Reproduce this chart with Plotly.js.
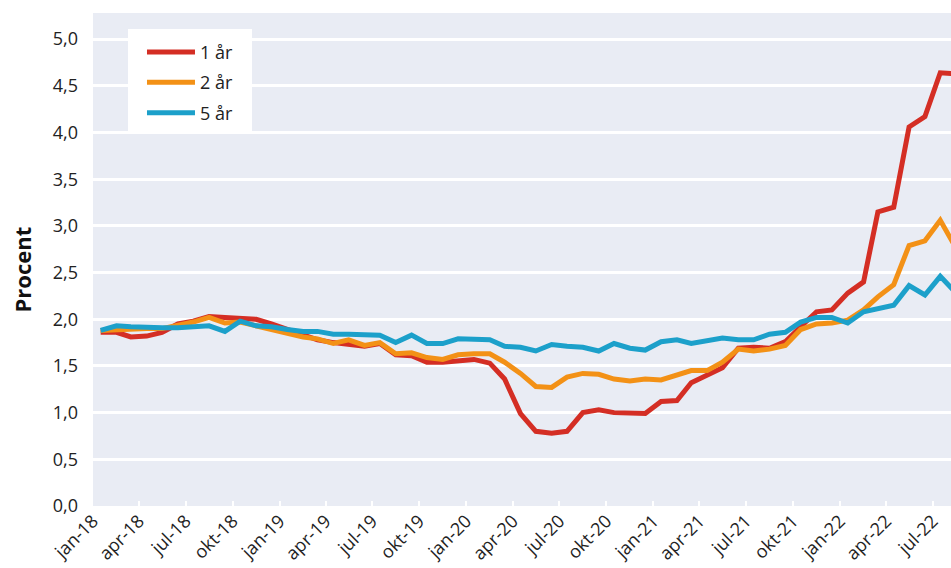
<!DOCTYPE html>
<html>
<head>
<meta charset="utf-8">
<script src="https://cdn.plot.ly/plotly-3.0.1.min.js"></script>
<style>
html,body{margin:0;padding:0;background:#fff;}
#chart{width:951px;height:568px;}
</style>
</head>
<body>
<div id="chart"></div>
<script>
// Monthly observations (plotted mid-month)
const months = [
 "2018-01-16","2018-02-16","2018-03-16","2018-04-16","2018-05-16","2018-06-16","2018-07-16","2018-08-16","2018-09-16","2018-10-16","2018-11-16","2018-12-16",
 "2019-01-16","2019-02-16","2019-03-16","2019-04-16","2019-05-16","2019-06-16","2019-07-16","2019-08-16","2019-09-16","2019-10-16","2019-11-16","2019-12-16",
 "2020-01-16","2020-02-16","2020-03-16","2020-04-16","2020-05-16","2020-06-16","2020-07-16","2020-08-16","2020-09-16","2020-10-16","2020-11-16","2020-12-16",
 "2021-01-16","2021-02-16","2021-03-16","2021-04-16","2021-05-16","2021-06-16","2021-07-16","2021-08-16","2021-09-16","2021-10-16","2021-11-16","2021-12-16",
 "2022-01-16","2022-02-16","2022-03-16","2022-04-16","2022-05-16","2022-06-16","2022-07-16","2022-08-16"
];

const rate1 = [
 1.86,1.86,1.81,1.82,1.86,1.95,1.98,2.03,2.02,2.01,2.00,1.95,
 1.89,1.83,1.78,1.75,1.73,1.71,1.74,1.62,1.61,1.54,1.54,1.55,
 1.57,1.53,1.36,0.99,0.80,0.78,0.80,1.00,1.03,1.00,0.99,0.99,
 1.12,1.13,1.32,1.40,1.48,1.69,1.70,1.69,1.76,1.92,2.08,2.10,
 2.28,2.40,3.15,3.20,4.06,4.17,4.64,4.63
];
const rate2 = [
 1.88,1.89,1.90,1.90,1.90,1.93,1.97,2.02,1.96,1.97,1.93,1.90,
 1.86,1.81,1.79,1.74,1.78,1.72,1.75,1.63,1.64,1.59,1.57,1.62,
 1.63,1.63,1.54,1.42,1.28,1.27,1.38,1.42,1.41,1.36,1.34,1.36,
 1.35,1.40,1.45,1.45,1.54,1.68,1.66,1.68,1.72,1.89,1.95,1.96,
 1.99,2.10,2.24,2.37,2.79,2.84,3.06,2.76
];
const rate5 = [
 1.88,1.93,1.92,1.91,1.91,1.91,1.92,1.93,1.87,1.98,1.93,1.92,
 1.89,1.87,1.87,1.84,1.84,1.84,1.83,1.75,1.83,1.74,1.74,1.79,
 1.78,1.78,1.71,1.70,1.66,1.73,1.71,1.70,1.66,1.74,1.69,1.67,
 1.76,1.78,1.74,1.77,1.80,1.78,1.78,1.84,1.86,1.97,2.02,2.02,
 1.96,2.08,2.11,2.15,2.36,2.26,2.46,2.28
];

const seriesNames = ["1 år","2 år","5 år"];
const seriesColors = ["#D42E24","#F39116","#1CA0CA"];

const tickVals = [
 "2018-01-01","2018-04-01","2018-07-01","2018-10-01",
 "2019-01-01","2019-04-01","2019-07-01","2019-10-01",
 "2020-01-01","2020-04-01","2020-07-01","2020-10-01",
 "2021-01-01","2021-04-01","2021-07-01","2021-10-01",
 "2022-01-01","2022-04-01","2022-07-01"
];
const tickLabels = [
 "jan-18","apr-18","jul-18","okt-18",
 "jan-19","apr-19","jul-19","okt-19",
 "jan-20","apr-20","jul-20","okt-20",
 "jan-21","apr-21","jul-21","okt-21",
 "jan-22","apr-22","jul-22"
];
const yTicks = [0,0.5,1,1.5,2,2.5,3,3.5,4,4.5,5];
const yTitle = "Procent";

const seriesData = [rate1, rate2, rate5];
const traces = seriesData.map((vals, k) => ({
  type: "scatter",
  mode: "lines",
  x: months,
  y: vals,
  name: seriesNames[k],
  legendgroup: "g" + k,
  line: {color: seriesColors[k], width: 5},
  hoverinfo: "skip"
}));

const font = "Open Sans, sans-serif";
const layout = {
  width: 951,
  height: 568,
  margin: {l: 93, r: 0, t: 13, b: 62},
  paper_bgcolor: "#ffffff",
  plot_bgcolor: "#E9ECF4",
  separators: ", ",
  font: {family: font, size: 18, color: "#222222"},
  showlegend: true,
  legend: {
    x: 0.0571, y: 0.958, xanchor: "left", yanchor: "top",
    bgcolor: "rgba(0,0,0,0)", borderwidth: 0,
    font: {family: font, size: 18, color: "#222222"},
    tracegroupgap: 4,
    itemwidth: 48
  },
  shapes: [{
    type: "rect", xref: "paper", yref: "paper",
    x0: 0.0408, x1: 0.1853, y0: 0.7566, y1: 0.9675,
    fillcolor: "#ffffff", line: {width: 0}, layer: "above"
  }],
  annotations: [{
    text: "<b>" + yTitle + "</b>",
    xref: "paper", yref: "paper",
    x: -0.0833, y: 0.4787,
    xanchor: "center", yanchor: "middle",
    textangle: -90, showarrow: false,
    font: {family: font, size: 22, color: "#111111"}
  }],
  xaxis: {
    type: "date",
    range: ["2018-01-01", "2022-08-06"],
    tickmode: "array",
    tickvals: tickVals,
    ticktext: tickLabels,
    tickangle: -45,
    ticks: "inside",
    ticklen: 5,
    tickwidth: 2,
    tickcolor: "#ffffff",
    showgrid: false,
    zeroline: false,
    showline: false,
    tickfont: {family: font, size: 18, color: "#222222"}
  },
  yaxis: {
    range: [0, 5.28],
    tickmode: "array",
    tickvals: yTicks,
    tickformat: ".1f",
    showgrid: true,
    gridcolor: "#ffffff",
    gridwidth: 3,
    zeroline: false,
    showline: false,
    ticks: "",
    ticklabelstandoff: 14,
    tickfont: {family: font, size: 18, color: "#222222"}
  }
};

Plotly.newPlot("chart", traces, layout, {displayModeBar: false, staticPlot: true});
</script>
</body>
</html>
